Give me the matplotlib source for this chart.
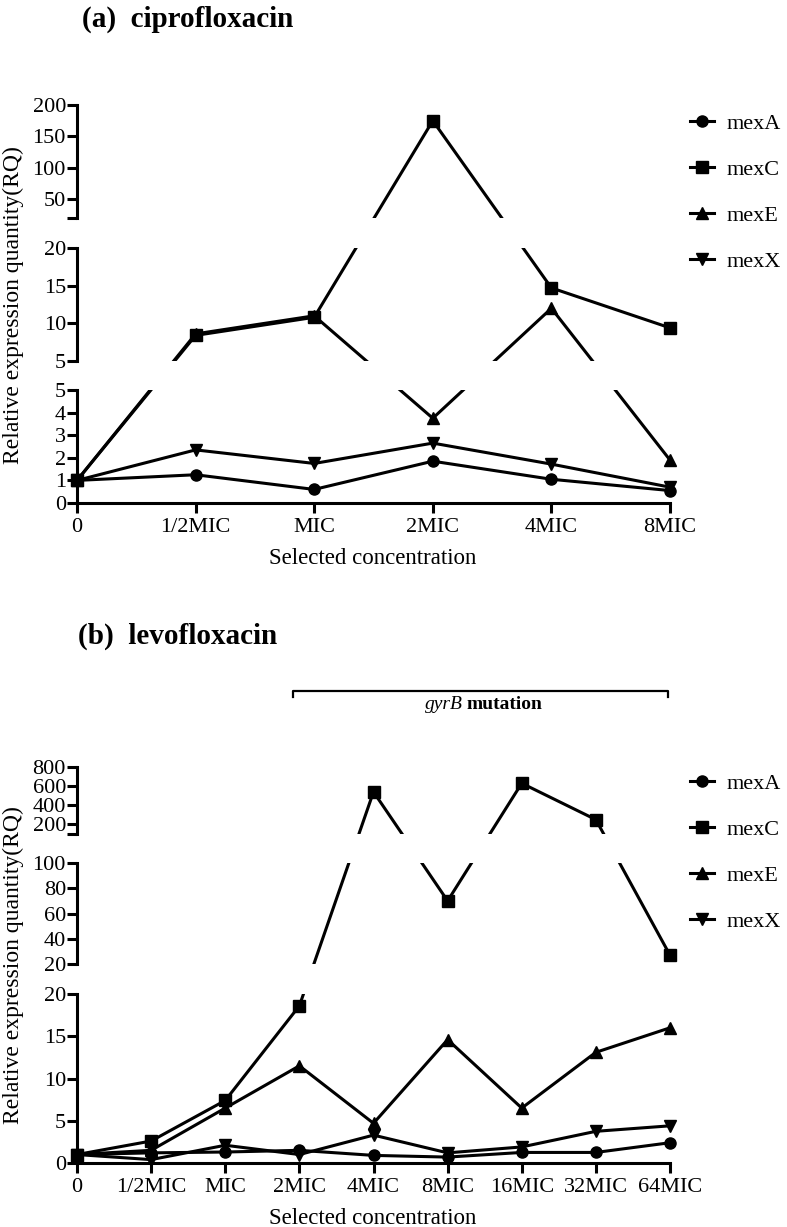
import numpy as np
import matplotlib
matplotlib.use("Agg")
import matplotlib.pyplot as plt
from matplotlib.lines import Line2D

plt.rcParams['font.family'] = ['Liberation Serif', 'DejaVu Serif']

genes = ["mexA", "mexC", "mexE", "mexX"]
gene_markers = ["o", "s", "^", "v"]

# (a) ciprofloxacin
cip_conc = ["0", "1/2MIC", "MIC", "2MIC", "4MIC", "8MIC"]
cip_mexA = [1.0, 1.25, 0.6, 1.85, 1.05, 0.55]
cip_mexC = [1.0, 8.4, 10.8, 175, 14.7, 9.4]
cip_mexE = [1.0, 8.6, 11.0, 3.75, 12.0, 1.9]
cip_mexX = [1.0, 2.35, 1.75, 2.65, 1.72, 0.7]

# (b) levofloxacin
levo_conc = ["0", "1/2MIC", "MIC", "2MIC", "4MIC", "8MIC", "16MIC", "32MIC", "64MIC"]
levo_mexA = [1.0, 1.2, 1.3, 1.5, 0.9, 0.7, 1.25, 1.25, 2.4]
levo_mexC = [1.0, 2.6, 7.4, 18.6, 540, 70, 630, 250, 27]
levo_mexE = [1.0, 1.5, 6.5, 11.5, 4.7, 14.6, 6.5, 13.1, 16.0]
levo_mexX = [1.0, 0.4, 2.1, 1.0, 3.3, 1.2, 1.9, 3.75, 4.4]

# broken y axis: value ranges of each piece, their heights and gaps (px)
cip_segments = [(0, 5), (5, 20), (20, 200)]
cip_heights = [113, 113, 113]
cip_gaps = [29, 30]
cip_yticks = [0, 1, 2, 3, 4, 5, 5, 10, 15, 20, 20, 50, 100, 150, 200]
cip_ylabels = ["0", "1", "2", "3", "4", "5", "5", "10", "15", "20", "", "50", "100", "150", "200"]

levo_segments = [(0, 20), (20, 100), (100, 800)]
levo_heights = [169, 101, 67]
levo_gaps = [30, 29]
levo_yticks = [0, 5, 10, 15, 20, 20, 40, 60, 80, 100, 100, 200, 400, 600, 800]
levo_ylabels = ["0", "5", "10", "15", "20", "20", "40", "60", "80", "100", "", "200", "400", "600", "800"]

EPS = 1e-6
W, H = 787, 1227
LW = 2.2
FS = 16


def break_scale(segments, heights, gaps):
    xp, fp = [], []
    pos = 0.0
    for i, ((lo, hi), h) in enumerate(zip(segments, heights)):
        xp += [lo if i == 0 else lo + EPS, hi]
        fp += [pos, pos + h]
        pos += h
        if i < len(gaps):
            pos += gaps[i]
    xp, fp = np.array(xp, float), np.array(fp, float)
    return (lambda v: np.interp(v, xp, fp)), (lambda c: np.interp(c, fp, xp))


def fix_ticks(ticks):
    # a repeated tick value belongs to the bottom of the next piece up
    out, seen = [], set()
    for t in ticks:
        if t in seen:
            out.append(t + EPS)
        else:
            out.append(t)
            seen.add(t)
    return out


def draw_panel(ax, conc, series, segments, heights, gaps, yticks, ylabels):
    fwd, inv = break_scale(segments, heights, gaps)
    ax.set_yscale("function", functions=(fwd, inv))
    x = np.arange(len(conc))
    for vals, m, name in zip(series, gene_markers, genes):
        ax.plot(x, vals, color="k", lw=LW, marker=m, ms=8, mfc="k", mec="k",
                label=name, zorder=2, clip_on=False)
    # white out the gaps between axis pieces
    for (lo, hi) in segments[:-1]:
        ax.axhspan(hi, hi + EPS, color="white", lw=0, zorder=2.2)
    ax.set_xlim(0, len(conc) - 1)
    ax.set_ylim(segments[0][0], segments[-1][1])
    ax.set_xticks(x, conc)
    ax.set_yticks(fix_ticks(yticks), ylabels)
    ends = []
    for i, (lo, hi) in enumerate(segments):
        if i > 0:
            ends.append(lo + EPS)
        ends.append(hi)
    ax.set_yticks(ends, minor=True)
    ax.tick_params(axis="both", which="major", direction="out", length=7,
                   width=2.2, labelsize=FS, color="k")
    ax.tick_params(axis="y", which="major", pad=1)
    ax.tick_params(axis="x", which="major", pad=4)
    ax.tick_params(axis="y", which="minor", direction="in", length=5, width=2.2)
    for s in ["top", "right", "left"]:
        ax.spines[s].set_visible(False)
    ax.spines["bottom"].set_linewidth(LW)
    for i, (lo, hi) in enumerate(segments):
        ax.plot([0, 0], [lo if i == 0 else lo + EPS, hi], color="k", lw=LW,
                clip_on=False, solid_capstyle="projecting", zorder=3)


fig = plt.figure(figsize=(W / 100, H / 100), dpi=100)


def px_box(left, top, right, bottom):
    return [left / W, 1 - bottom / H, (right - left) / W, (bottom - top) / H]


ax_a = fig.add_axes(px_box(77, 105, 670, 503))
draw_panel(ax_a, cip_conc, [cip_mexA, cip_mexC, cip_mexE, cip_mexX],
           cip_segments, cip_heights, cip_gaps, cip_yticks, cip_ylabels)

ax_b = fig.add_axes(px_box(77, 767, 670, 1163))
draw_panel(ax_b, levo_conc, [levo_mexA, levo_mexC, levo_mexE, levo_mexX],
           levo_segments, levo_heights, levo_gaps, levo_yticks, levo_ylabels)

for ax, top in [(ax_a, 113), (ax_b, 773)]:
    ax.legend(loc="upper left", bbox_to_anchor=(690 / W, 1 - top / H),
              bbox_transform=fig.transFigure, frameon=False, fontsize=FS,
              handlelength=1.1, handletextpad=0.55, labelspacing=1.15,
              borderpad=0, borderaxespad=0, numpoints=1)

# titles
fig.text(82 / W, 1 - 19 / H, "(a)  ciprofloxacin", fontsize=21, fontweight="bold",
         ha="left", va="center")
fig.text(78 / W, 1 - 636 / H, "(b)  levofloxacin", fontsize=21, fontweight="bold",
         ha="left", va="center")

# axis labels
for yc, xl in [(305, 558), (965, 1218)]:
    fig.text(13 / W, 1 - yc / H, "Relative expression quantity(RQ)", rotation=90,
             fontsize=17, ha="center", va="center")
    fig.text(373 / W, 1 - xl / H, "Selected concentration", fontsize=16.5,
             ha="center", va="center")

# gyrB mutation bracket
bx = np.array([293, 293, 668, 668]) / W
by = 1 - np.array([697, 691, 691, 697]) / H
fig.add_artist(Line2D(bx, by, color="k", lw=1.6, transform=fig.transFigure))
fig.text(463 / W, 1 - 709 / H, "gyrB", fontsize=14, fontstyle="italic",
         ha="right", va="baseline")
fig.text(467 / W, 1 - 709 / H, "mutation", fontsize=14, fontweight="bold",
         ha="left", va="baseline")

fig.savefig("out.png", dpi=100)
